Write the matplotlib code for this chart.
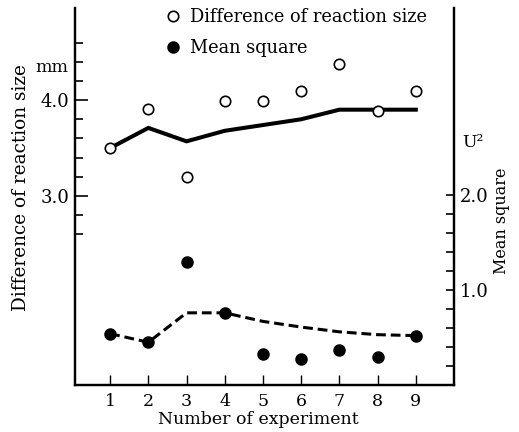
import matplotlib
matplotlib.use('Agg')
import matplotlib.pyplot as plt
from matplotlib.ticker import FixedLocator

# Data
experiment = [1, 2, 3, 4, 5, 6, 7, 8, 9]
diff_points = [3.50, 3.91, 3.20, 3.99, 3.99, 4.09, 4.38, 3.89, 4.09]
diff_line = [3.50, 3.71, 3.57, 3.68, 3.74, 3.80, 3.90, 3.90, 3.90]
msq_points = [0.54, 0.45, 1.29, 0.76, 0.33, 0.27, 0.37, 0.29, 0.52]
msq_line = [0.54, 0.45, 0.76, 0.76, 0.67, 0.61, 0.56, 0.53, 0.52]

left_major = [3.0, 4.0]
left_minor = [2.6, 2.8, 3.2, 3.4, 3.6, 3.8, 4.2, 4.4, 4.6]
right_major = [1.0, 2.0]
right_minor = [0.2, 0.4, 0.6, 0.8, 1.2, 1.4, 1.6, 1.8]

plt.rcParams['font.family'] = 'DejaVu Serif'

fig = plt.figure(figsize=(5.19, 4.32), dpi=100)
ax = fig.add_axes([75 / 519, 1 - 385 / 432, 379 / 519, 377 / 432])
ax2 = ax.twinx()

# difference of reaction size (left axis)
ax.plot(experiment, diff_line, color='black', lw=2.9, solid_joinstyle='miter', zorder=2)
h1, = ax.plot(experiment, diff_points, 'o', ms=7.5, mfc='white', mec='black', mew=1.2, zorder=3)

# mean square (right axis)
ax2.plot(experiment, msq_line, color='black', lw=2.2, dashes=(3.2, 1.6), zorder=2)
h2, = ax2.plot(experiment, msq_points, 'o', ms=8, color='black', zorder=3)

ax.set_xlim(0.08, 10.0)
ax.set_ylim(1.03, 4.96)
ax2.set_ylim(0, 3.97)

ax.set_xticks(experiment)
ax.set_xticklabels([str(e) for e in experiment])
ax.tick_params(axis='x', direction='in', length=7.5, width=1.0, pad=6, labelsize=12.5)

ax.yaxis.set_major_locator(FixedLocator(left_major))
ax.yaxis.set_minor_locator(FixedLocator(left_minor))
ax.set_yticklabels(['3.0', '4.0'])
ax.tick_params(axis='y', which='major', direction='in', length=9, width=1.2, pad=4, labelsize=13)
ax.tick_params(axis='y', which='minor', direction='in', length=5.5, width=1.2)

ax2.yaxis.set_major_locator(FixedLocator(right_major))
ax2.yaxis.set_minor_locator(FixedLocator(right_minor))
ax2.set_yticklabels(['1.0', '2.0'])
ax2.tick_params(axis='y', which='major', direction='in', length=6, width=1.2, pad=4, labelsize=13)
ax2.tick_params(axis='y', which='minor', direction='in', length=5.5, width=1.2)

for a in (ax, ax2):
    a.spines['top'].set_visible(False)
    for s in ('left', 'right', 'bottom'):
        a.spines[s].set_linewidth(1.6)

ax.set_xlabel('Number of experiment', fontsize=12.5)
ax.xaxis.set_label_coords(0.483, -0.068)
ax.set_ylabel('Difference of reaction size', fontsize=13.3)
ax.yaxis.set_label_coords(-0.119, 0.523)
ax2.set_ylabel('Mean square', fontsize=11.5)
ax2.yaxis.set_label_coords(1.103, 0.435)

ax.text(-0.061, 0.843, 'mm', transform=ax.transAxes, ha='center', va='center', fontsize=12.5)
ax2.text(1.022, 0.642, 'U²', transform=ax2.transAxes, ha='left', va='center', fontsize=12.5)

ax2.legend([h1, h2], ['Difference of reaction size', 'Mean square'],
           loc='upper left', bbox_to_anchor=(164 / 519, 1 - 8 / 432),
           bbox_transform=fig.transFigure, frameon=False, fontsize=12.8,
           handlelength=1.0, handletextpad=0.45, borderpad=0, borderaxespad=0,
           labelspacing=0.72, numpoints=1)

fig.savefig('out.png', dpi=100)
